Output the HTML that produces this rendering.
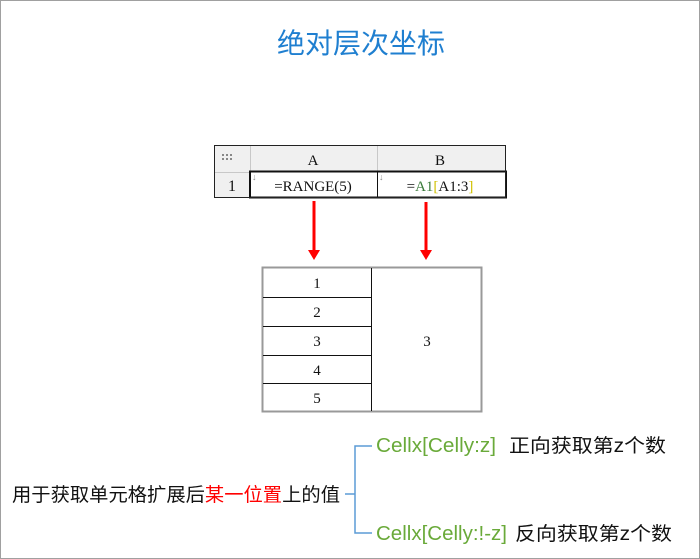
<!DOCTYPE html>
<html><head><meta charset="utf-8"><style>
body{margin:0;width:700px;height:559px;background:#fff;overflow:hidden;position:relative;font-family:"Liberation Sans","Noto Sans CJK SC",sans-serif}
.a{position:absolute}
</style></head><body>
<svg class="a" style="left:0;top:0" width="700" height="559" xmlns="http://www.w3.org/2000/svg">
<rect x="0.5" y="0.5" width="699" height="558" fill="none" stroke="#a0a0a0"/>
<text x="361" y="53" text-anchor="middle" font-size="28" fill="#1f7fd0" font-family="Noto Sans CJK SC, sans-serif">绝对层次坐标</text>
<rect x="214" y="145" width="292" height="27" fill="#f0f0f0"/>
<rect x="214" y="172" width="36" height="26" fill="#f0f0f0"/>
<rect x="250" y="172" width="256" height="26" fill="#fff"/>
<g stroke="#c8c8c8" stroke-width="1">
<line x1="250.5" y1="145" x2="250.5" y2="172"/><line x1="377.5" y1="145" x2="377.5" y2="172"/>
<line x1="214" y1="172.5" x2="250" y2="172.5"/>
</g>
<rect x="250" y="171.5" width="256" height="26" fill="none" stroke="#111" stroke-width="2"/>
<line x1="377.5" y1="172" x2="377.5" y2="198" stroke="#111"/>
<rect x="214.5" y="145.5" width="291" height="52" fill="none" stroke="#222"/>
<g fill="#888"><rect x="222" y="154" width="2" height="2"/><rect x="226" y="154" width="2" height="2"/><rect x="230" y="154" width="2" height="2"/><rect x="222" y="158" width="2" height="2"/><rect x="226" y="158" width="2" height="2"/><rect x="230" y="158" width="2" height="2"/></g>
<g font-family="Liberation Serif, serif" font-size="15" fill="#111" text-anchor="middle">
<text x="313" y="165">A</text><text x="440" y="165">B</text>
<text x="232" y="191" font-size="16">1</text>
<text x="313" y="191">=RANGE(5)</text>
<text x="440" y="191">=<tspan fill="#3a7a3a">A1</tspan><tspan fill="#d0c000">[</tspan>A1:3<tspan fill="#d0c000">]</tspan></text>
</g>
<text x="252" y="180" font-size="9" fill="#888">↓</text><text x="379" y="180" font-size="9" fill="#888">↓</text>
<g stroke="red" stroke-width="3"><line x1="314" y1="201" x2="314" y2="250"/><line x1="426" y1="202" x2="426" y2="250"/></g>
<g fill="red"><polygon points="308,250 320,250 314,260"/><polygon points="420,250 432,250 426,260"/></g>
<rect x="262.5" y="267.5" width="219" height="144" fill="#fff" stroke="#999" stroke-width="2"/>
<line x1="371.5" y1="268" x2="371.5" y2="411" stroke="#111"/>
<g stroke="#111"><line x1="263" y1="297.5" x2="371" y2="297.5"/><line x1="263" y1="326.5" x2="371" y2="326.5"/><line x1="263" y1="355.5" x2="371" y2="355.5"/><line x1="263" y1="383.5" x2="371" y2="383.5"/></g>
<g font-family="Liberation Serif, serif" font-size="15" fill="#111" text-anchor="middle">
<text x="317" y="288">1</text><text x="317" y="317">2</text><text x="317" y="346">3</text><text x="317" y="375">4</text><text x="317" y="403">5</text>
<text x="427" y="346">3</text></g>
<path d="M372 446 H355 V533 H372 M345 494 H355" fill="none" stroke="#5b9bd5" stroke-width="1.5"/>
<g font-size="19" font-family="Liberation Sans, Noto Sans CJK SC, sans-serif">
<text x="12" y="501" fill="#111" textLength="328" lengthAdjust="spacingAndGlyphs">用于获取单元格扩展后<tspan fill="red">某一位置</tspan>上的值</text>
<text x="376" y="452" fill="#6aaa3a" font-size="20" textLength="120" lengthAdjust="spacingAndGlyphs">Cellx[Celly:z]</text>
<text x="509" y="452" fill="#111" textLength="157" lengthAdjust="spacingAndGlyphs">正向获取第z个数</text>
<text x="376" y="540" fill="#6aaa3a" font-size="20" textLength="131" lengthAdjust="spacingAndGlyphs">Cellx[Celly:!-z]</text>
<text x="515" y="540" fill="#111" textLength="157" lengthAdjust="spacingAndGlyphs">反向获取第z个数</text>
</g>
</svg>
</body></html>
